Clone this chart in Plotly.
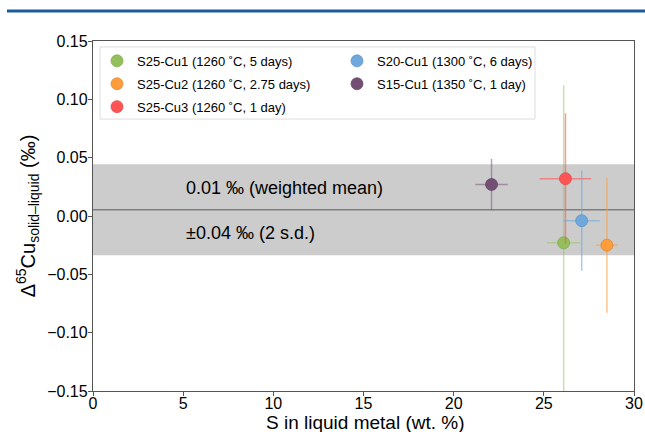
import plotly.graph_objects as go

# ---- data ----
names = ["S25-Cu1 (1260 ˚C, 5 days)", "S25-Cu2 (1260 ˚C, 2.75 days)",
         "S25-Cu3 (1260 ˚C, 1 day)", "S20-Cu1 (1300 ˚C, 6 days)",
         "S15-Cu1 (1350 ˚C, 1 day)"]
s_wt = [26.1, 28.5, 26.2, 27.1, 22.1]
s_err = [0.92, 0.6, 1.43, 1.0, 0.9]
d65cu = [-0.023, -0.025, 0.032, -0.004, 0.027]
d65cu_err = [0.135, 0.058, 0.056, 0.043, 0.022]
colors = ["#93c05a", "#ff9c3b", "#ff5454", "#6fa8dc", "#744f74"]
edge_colors = ["#7aa34a", "#d98530", "#d94545", "#5a8fc0", "#5e3f5e"]
bar_colors = ["rgba(147,192,90,0.5)", "rgba(255,156,59,0.6)", "rgba(255,84,84,0.6)",
              "rgba(111,168,220,0.6)", "rgba(116,79,116,0.5)"]
legend_column = ["legend", "legend", "legend", "legend2", "legend2"]

weighted_mean = 0.0053
two_sd = 0.039
mean_label = "0.01 ‰ (weighted mean)"
sd_label = "±0.04 ‰ (2 s.d.)"
x_title = "S in liquid metal (wt. %)"
y_title = "Δ<sup>65</sup>Cu<sub>solid–liquid</sub> (‰)"

x_ticks = [0, 5, 10, 15, 20, 25, 30]
y_ticks = [-0.15, -0.10, -0.05, 0.00, 0.05, 0.10, 0.15]

FONT = "Arial, Liberation Sans, sans-serif"

fig = go.Figure()
for i in range(len(names)):
    fig.add_trace(go.Scatter(
        x=[s_wt[i]], y=[d65cu[i]], mode="markers", name=names[i],
        legend=legend_column[i], legendgroup=f"g{i}",
        marker=dict(size=12, color=colors[i], line=dict(color=edge_colors[i], width=0.7)),
        error_x=dict(type="data", array=[s_err[i]], color=bar_colors[i], thickness=1.5, width=0),
        error_y=dict(type="data", array=[d65cu_err[i]], color=bar_colors[i], thickness=1.5, width=0),
    ))

# 2 s.d. band and weighted mean line
fig.add_shape(type="rect", xref="x", yref="y", x0=0, x1=30,
              y0=weighted_mean - two_sd, y1=weighted_mean + two_sd,
              fillcolor="#cccccc", line=dict(width=0), layer="below")
fig.add_shape(type="line", xref="x", yref="y", x0=0, x1=30,
              y0=weighted_mean, y1=weighted_mean,
              line=dict(color="#7f7f7f", width=1.5), layer="below")
# legend frame (shared by the two legend columns)
fig.add_shape(type="rect", xref="paper", yref="paper", x0=0.0129, x1=0.817,
              y0=0.777, y1=0.983, fillcolor="white",
              line=dict(color="#dddddd", width=1), layer="below")
# blue rule at top of figure
fig.add_shape(type="line", xref="paper", yref="paper", x0=-0.159, x1=1.03,
              y0=1.0857, y1=1.0857, line=dict(color="#1a5c9e", width=3))

fig.add_annotation(x=5.05, y=0.024, xref="x", yref="y", text=mean_label,
                   showarrow=False, xanchor="left", yanchor="middle",
                   font=dict(size=18, color="black", family=FONT))
fig.add_annotation(x=5.05, y=-0.0145, xref="x", yref="y", text=sd_label,
                   showarrow=False, xanchor="left", yanchor="middle",
                   font=dict(size=18, color="black", family=FONT))
# x-axis title
fig.add_annotation(x=0.504, y=-0.09, xref="paper", yref="paper", text=x_title,
                   showarrow=False, xanchor="center", yanchor="middle",
                   font=dict(size=19, color="black", family=FONT))

leg_common = dict(orientation="v", xanchor="left", yanchor="top",
                  bgcolor="rgba(0,0,0,0)", borderwidth=0, tracegroupgap=3,
                  font=dict(size=13, family=FONT))
fig.update_layout(
    width=645, height=432,
    margin=dict(l=93, r=11, t=41, b=41, autoexpand=False),
    paper_bgcolor="white", plot_bgcolor="white",
    font=dict(family=FONT, color="black"),
    showlegend=True,
    legend=dict(x=0.0074, y=0.986, **leg_common),
    legend2=dict(x=0.451, y=0.986, **leg_common),
    xaxis=dict(range=[0, 30], tickvals=x_ticks, ticktext=[str(v) for v in x_ticks],
               showgrid=False, zeroline=False, showline=True, linecolor="#555555",
               linewidth=1.3, mirror=True, ticks="outside", ticklen=4, tickcolor="#555555",
               tickfont=dict(size=16), automargin=False, ticklabelstandoff=-6),
    yaxis=dict(range=[-0.15, 0.15], tickvals=y_ticks,
               ticktext=[f"{v:.2f}".replace("-", "−") for v in y_ticks],
               showgrid=False, zeroline=False, showline=True, linecolor="#555555",
               linewidth=1.3, mirror=True, ticks="outside", ticklen=4, tickcolor="#555555",
               tickfont=dict(size=16), automargin=False, ticklabelstandoff=-3,
               title=dict(text=y_title, font=dict(size=20), standoff=6)),
)

fig.write_html("out.html", config={"displayModeBar": False},
               post_script="document.body.style.margin='0px';document.body.style.padding='0px';")
